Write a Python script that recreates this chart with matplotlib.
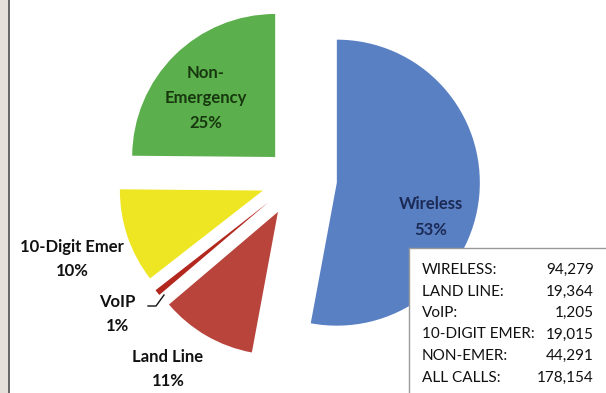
"""911 call volume by call type: exploded pie with a totals box."""

import matplotlib.pyplot as plt
from matplotlib.patches import Rectangle

# Call counts by type (order drawn clockwise from 12 o'clock)
CATEGORIES = ["Wireless", "Land Line", "VoIP", "10-Digit Emer", "Non-Emergency"]
CALLS = [94279, 19364, 1205, 19015, 44291]
PCT_LABELS = ["53%", "11%", "1%", "10%", "25%"]

BOX_NAMES = ["WIRELESS:", "LAND LINE:", "VoIP:", "10-DIGIT EMER:", "NON-EMER:", "ALL CALLS:"]
BOX_VALUES = CALLS[:3] + [CALLS[3], CALLS[4], sum(CALLS)]

COLORS = ["#5A80C4", "#B8443C", "#B3281E", "#EFE623", "#5BAF4C"]

W, H = 606, 393
fig = plt.figure(figsize=(W / 100, H / 100), dpi=100)
ax = fig.add_axes([0, 0, 1, 1])

# pixel-like data coords, y pointing up; explode offsets are in the same units
CX, CY, R = 297, H - 179, 143
EXPLODE = [40, 38, 37, 36, 31]
ax.pie(CALLS, explode=EXPLODE, colors=COLORS, startangle=90,
       counterclock=False, center=(CX, CY), radius=R,
       wedgeprops=dict(linewidth=0))
ax.set_xlim(0, W)
ax.set_ylim(0, H)
ax.set_aspect("equal")
ax.axis("off")

FONT = ["Lato", "DejaVu Sans"]
lab = dict(ha="center", va="center", fontsize=12, fontweight="bold", family=FONT)

# labels inside the two big slices
ax.text(206, H - 98, "Non-\nEmergency\n" + PCT_LABELS[4], color="#17380f",
        linespacing=1.72, **lab)
ax.text(431, H - 217, CATEGORIES[0] + "\n" + PCT_LABELS[0], color="#1b2a55",
        linespacing=1.72, **lab)

# outside labels
ax.text(72, H - 259, CATEGORIES[3] + "\n" + PCT_LABELS[3], color="#111111",
        linespacing=1.6, **lab)
ax.text(117, H - 314, CATEGORIES[2] + "\n" + PCT_LABELS[2], color="#111111",
        linespacing=1.6, **lab)
ax.text(168, H - 369, CATEGORIES[1] + "\n" + PCT_LABELS[1], color="#111111",
        linespacing=1.6, **lab)
# VoIP leader line
ax.plot([148, 156, 164], [H - 306, H - 306, H - 295], color="#111111", lw=1.0)

# totals box
ax.add_patch(Rectangle((409, -5), 205, H - 248 + 5, facecolor="white",
                       edgecolor="#9a9a9a", lw=1.0, zorder=5))
for i, (name, val) in enumerate(zip(BOX_NAMES, BOX_VALUES)):
    y = H - 270 - i * 21.5
    ax.text(422, y, name, ha="left", va="center", fontsize=11, family=FONT,
            color="#111111", zorder=6)
    ax.text(594, y, f"{val:,}", ha="right", va="center", fontsize=11,
            family=FONT, color="#111111", zorder=6)

# frame strip on the left
ax.add_patch(Rectangle((0, 0), 8, H, facecolor="#e6e0da", lw=0, zorder=6))
ax.plot([8.5, 8.5], [0, H], color="#4a4a4a", lw=1.2, zorder=7)

fig.savefig("out.png", dpi=100, facecolor="white")
